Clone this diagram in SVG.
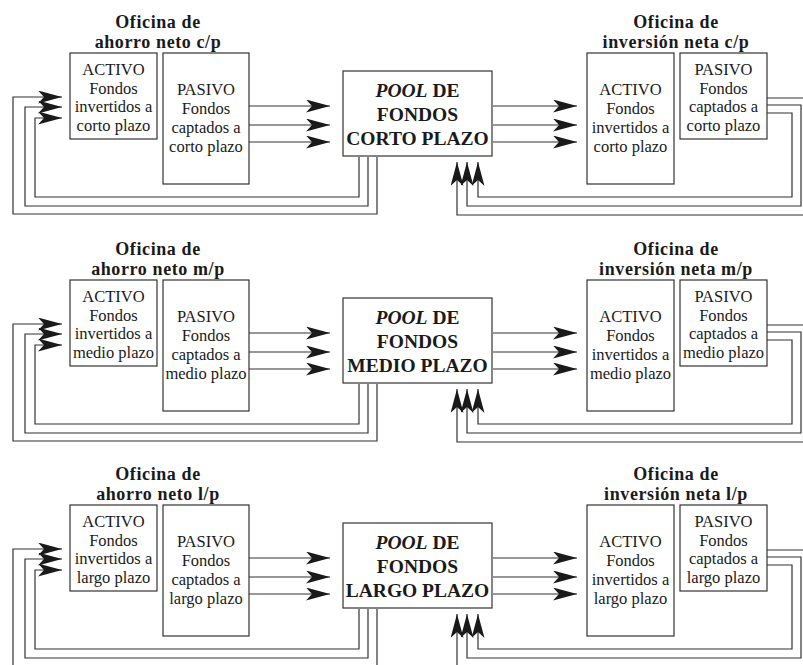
<svg xmlns="http://www.w3.org/2000/svg" width="803" height="665" viewBox="0 0 803 665">
<style>
.bg{fill:#fff}
.box{fill:#fff;stroke:#333;stroke-width:1.2}
.t{font-family:"Liberation Serif","Times New Roman",serif;font-size:16.5px;text-anchor:middle;fill:#1a1a1a}
.h{font-weight:bold;font-size:18px;letter-spacing:0.6px}
.p{font-weight:bold;font-size:19.5px}
.c{fill:none;stroke:#333;stroke-width:1.2}
.a{marker-end:url(#ah)}
</style>
<defs>
<marker id="ah" viewBox="0 0 24 13" refX="24" refY="6.5" markerWidth="24" markerHeight="13" markerUnits="userSpaceOnUse" orient="auto">
<path d="M0,0 L24,6.5 L0,13 L6,6.5 Z" fill="#1a1a1a"/>
</marker>
</defs>
<rect class="bg" x="0" y="0" width="803" height="665"/>

<!-- Row 1: corto plazo -->
<g id="row-cp">
  <g id="hdr-ahorro-cp"><text class="t h" x="158" y="28">Oficina de</text><text class="t h" x="158" y="48">ahorro neto c/p</text></g>
  <g id="activo-ahorro-cp"><rect class="box" x="70" y="53" width="87" height="86"/>
    <text class="t" x="113.5" y="75">ACTIVO</text><text class="t" x="113.5" y="93.5">Fondos</text><text class="t" x="113.5" y="112">invertidos a</text><text class="t" x="113.5" y="130.5">corto plazo</text></g>
  <g id="pasivo-ahorro-cp"><rect class="box" x="163" y="53" width="86" height="131"/>
    <text class="t" x="206" y="95">PASIVO</text><text class="t" x="206" y="114">Fondos</text><text class="t" x="206" y="133">captados a</text><text class="t" x="206" y="152">corto plazo</text></g>
  <g id="pool-cp"><rect class="box" x="343" y="71" width="149" height="85"/>
    <text class="t p" x="417.5" y="97"><tspan font-style="italic">POOL</tspan> DE</text><text class="t p" x="417.5" y="121">FONDOS</text><text class="t p" x="417.5" y="145">CORTO PLAZO</text></g>
  <g id="hdr-inversion-cp"><text class="t h" x="676" y="28">Oficina de</text><text class="t h" x="676" y="48">inversión neta c/p</text></g>
  <g id="activo-inversion-cp"><rect class="box" x="587" y="53" width="87" height="131"/>
    <text class="t" x="630.5" y="95">ACTIVO</text><text class="t" x="630.5" y="114">Fondos</text><text class="t" x="630.5" y="133">invertidos a</text><text class="t" x="630.5" y="152">corto plazo</text></g>
  <g id="pasivo-inversion-cp"><rect class="box" x="680" y="53" width="87" height="86"/>
    <text class="t" x="723.5" y="75">PASIVO</text><text class="t" x="723.5" y="93.5">Fondos</text><text class="t" x="723.5" y="112">captados a</text><text class="t" x="723.5" y="130.5">corto plazo</text></g>
</g>

<!-- Row 2: medio plazo -->
<g id="row-mp" transform="translate(0,227)">
  <g id="hdr-ahorro-mp"><text class="t h" x="158" y="28">Oficina de</text><text class="t h" x="158" y="48">ahorro neto m/p</text></g>
  <g id="activo-ahorro-mp"><rect class="box" x="70" y="53" width="87" height="86"/>
    <text class="t" x="113.5" y="75">ACTIVO</text><text class="t" x="113.5" y="93.5">Fondos</text><text class="t" x="113.5" y="112">invertidos a</text><text class="t" x="113.5" y="130.5">medio plazo</text></g>
  <g id="pasivo-ahorro-mp"><rect class="box" x="163" y="53" width="86" height="131"/>
    <text class="t" x="206" y="95">PASIVO</text><text class="t" x="206" y="114">Fondos</text><text class="t" x="206" y="133">captados a</text><text class="t" x="206" y="152">medio plazo</text></g>
  <g id="pool-mp"><rect class="box" x="343" y="71" width="149" height="85"/>
    <text class="t p" x="417.5" y="97"><tspan font-style="italic">POOL</tspan> DE</text><text class="t p" x="417.5" y="121">FONDOS</text><text class="t p" x="417.5" y="145">MEDIO PLAZO</text></g>
  <g id="hdr-inversion-mp"><text class="t h" x="676" y="28">Oficina de</text><text class="t h" x="676" y="48">inversión neta m/p</text></g>
  <g id="activo-inversion-mp"><rect class="box" x="587" y="53" width="87" height="131"/>
    <text class="t" x="630.5" y="95">ACTIVO</text><text class="t" x="630.5" y="114">Fondos</text><text class="t" x="630.5" y="133">invertidos a</text><text class="t" x="630.5" y="152">medio plazo</text></g>
  <g id="pasivo-inversion-mp"><rect class="box" x="680" y="53" width="87" height="86"/>
    <text class="t" x="723.5" y="75">PASIVO</text><text class="t" x="723.5" y="93.5">Fondos</text><text class="t" x="723.5" y="112">captados a</text><text class="t" x="723.5" y="130.5">medio plazo</text></g>
</g>

<!-- Row 3: largo plazo -->
<g id="row-lp" transform="translate(0,452)">
  <g id="hdr-ahorro-lp"><text class="t h" x="158" y="28">Oficina de</text><text class="t h" x="158" y="48">ahorro neto l/p</text></g>
  <g id="activo-ahorro-lp"><rect class="box" x="70" y="53" width="87" height="86"/>
    <text class="t" x="113.5" y="75">ACTIVO</text><text class="t" x="113.5" y="93.5">Fondos</text><text class="t" x="113.5" y="112">invertidos a</text><text class="t" x="113.5" y="130.5">largo plazo</text></g>
  <g id="pasivo-ahorro-lp"><rect class="box" x="163" y="53" width="86" height="131"/>
    <text class="t" x="206" y="95">PASIVO</text><text class="t" x="206" y="114">Fondos</text><text class="t" x="206" y="133">captados a</text><text class="t" x="206" y="152">largo plazo</text></g>
  <g id="pool-lp"><rect class="box" x="343" y="71" width="149" height="85"/>
    <text class="t p" x="417.5" y="97"><tspan font-style="italic">POOL</tspan> DE</text><text class="t p" x="417.5" y="121">FONDOS</text><text class="t p" x="417.5" y="145">LARGO PLAZO</text></g>
  <g id="hdr-inversion-lp"><text class="t h" x="676" y="28">Oficina de</text><text class="t h" x="676" y="48">inversión neta l/p</text></g>
  <g id="activo-inversion-lp"><rect class="box" x="587" y="53" width="87" height="131"/>
    <text class="t" x="630.5" y="95">ACTIVO</text><text class="t" x="630.5" y="114">Fondos</text><text class="t" x="630.5" y="133">invertidos a</text><text class="t" x="630.5" y="152">largo plazo</text></g>
  <g id="pasivo-inversion-lp"><rect class="box" x="680" y="53" width="87" height="86"/>
    <text class="t" x="723.5" y="75">PASIVO</text><text class="t" x="723.5" y="93.5">Fondos</text><text class="t" x="723.5" y="112">captados a</text><text class="t" x="723.5" y="130.5">largo plazo</text></g>
</g>

<g id="connectors">
  <g id="conn-cp">
    <path class="c a" d="M249,106 H330"/><path class="c a" d="M249,125 H330"/><path class="c a" d="M249,142 H330"/>
    <path class="c a" d="M493,106 H577"/><path class="c a" d="M493,125 H577"/><path class="c a" d="M493,142 H577"/>
    <path class="c a" d="M359,157 V197 H35 V118 H62"/>
    <path class="c a" d="M368,157 V206 H25 V107 H62"/>
    <path class="c a" d="M377,157 V214 H13 V97 H62"/>
    <path class="c a" d="M767,113 H792 V197 H478 V162"/>
    <path class="c a" d="M767,105 H801 V206 H467 V162"/>
    <path class="c a" d="M767,98 H810 V215 H457 V162"/>
  </g>
  <g id="conn-mp" transform="translate(0,227)">
    <path class="c a" d="M249,106 H330"/><path class="c a" d="M249,125 H330"/><path class="c a" d="M249,142 H330"/>
    <path class="c a" d="M493,106 H577"/><path class="c a" d="M493,125 H577"/><path class="c a" d="M493,142 H577"/>
    <path class="c a" d="M359,157 V197 H35 V118 H62"/>
    <path class="c a" d="M368,157 V206 H25 V107 H62"/>
    <path class="c a" d="M377,157 V214 H13 V97 H62"/>
    <path class="c a" d="M767,113 H792 V197 H478 V162"/>
    <path class="c a" d="M767,105 H801 V206 H467 V162"/>
    <path class="c a" d="M767,98 H810 V215 H457 V162"/>
  </g>
  <g id="conn-lp" transform="translate(0,452)">
    <path class="c a" d="M249,106 H330"/><path class="c a" d="M249,125 H330"/><path class="c a" d="M249,142 H330"/>
    <path class="c a" d="M493,106 H577"/><path class="c a" d="M493,125 H577"/><path class="c a" d="M493,142 H577"/>
    <path class="c a" d="M359,157 V197 H35 V118 H62"/>
    <path class="c a" d="M368,157 V206 H25 V107 H62"/>
    <path class="c a" d="M377,157 V214 H13 V97 H62"/>
    <path class="c a" d="M767,113 H792 V197 H478 V162"/>
    <path class="c a" d="M767,105 H801 V206 H467 V162"/>
    <path class="c a" d="M767,98 H810 V215 H457 V162"/>
  </g>
</g>
</svg>
